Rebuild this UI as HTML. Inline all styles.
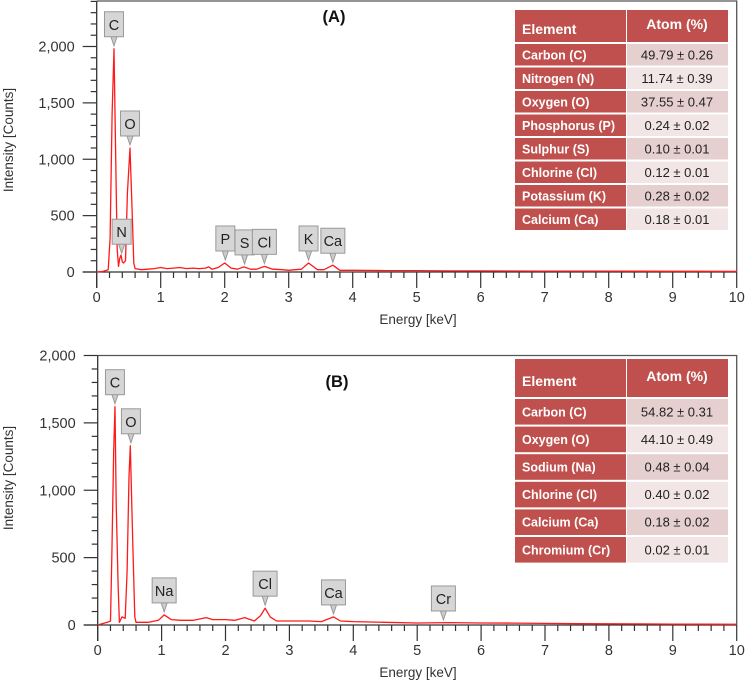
<!DOCTYPE html>
<html><head><meta charset="utf-8">
<style>
html,body{margin:0;padding:0;background:#fff;}
svg{display:block;font-family:"Liberation Sans",sans-serif;}
</style></head>
<body>
<svg id="chart" width="748" height="688" viewBox="0 0 748 688" xmlns="http://www.w3.org/2000/svg"></svg>
<script>
// ---------- data ----------
const energyA = [0,0.1,0.18,0.21,0.24,0.27,0.3,0.32,0.34,0.36,0.38,0.4,0.42,0.45,0.48,0.52,0.55,0.58,0.6,0.7,0.8,0.9,1.0,1.1,1.2,1.3,1.4,1.5,1.6,1.7,1.75,1.8,1.9,2.0,2.1,2.2,2.3,2.4,2.5,2.62,2.75,2.9,3.0,3.1,3.2,3.31,3.45,3.55,3.69,3.8,4.0,4.5,5,5.5,6,6.5,7,7.5,8,8.5,9,9.5,10];
const countsA = [0,5,20,300,1400,1980,900,200,50,120,150,90,80,100,700,1100,600,80,30,20,25,30,40,30,35,40,30,35,30,35,45,25,40,80,35,25,45,25,25,50,25,20,15,20,25,80,20,20,60,15,15,12,12,10,10,9,8,8,8,7,6,6,5];
const energyB = [0,0.15,0.2,0.22,0.25,0.27,0.29,0.32,0.34,0.38,0.43,0.46,0.49,0.51,0.55,0.58,0.6,0.8,0.95,1.04,1.15,1.3,1.5,1.7,1.8,2.0,2.15,2.3,2.45,2.55,2.62,2.7,2.8,3.0,3.3,3.5,3.69,3.8,4.0,4.5,5,5.5,6,6.5,7,7.5,8,8.5,9,9.5,10];
const countsB = [0,20,30,500,1300,1620,900,300,20,60,50,400,1100,1330,600,60,20,20,35,75,40,35,35,55,40,40,35,55,30,70,125,60,30,30,30,25,60,30,25,20,15,18,15,14,12,10,9,8,7,6,5];
const labelsA = ["C","O","N","P","S","Cl","K","Ca"];
const labelEA = [0.27,0.52,0.39,2.01,2.31,2.62,3.31,3.69];
const labelCA = [1980,1100,140,80,45,50,80,60];
const labelsB = ["C","O","Na","Cl","Ca","Cr"];
const labelEB = [0.27,0.52,1.04,2.62,3.69,5.41];
const labelCB = [1620,1330,75,125,60,15];
const tableA_el = ["Carbon (C)","Nitrogen (N)","Oxygen (O)","Phosphorus (P)","Sulphur (S)","Chlorine (Cl)","Potassium (K)","Calcium (Ca)"];
const tableA_val = ["49.79 ± 0.26","11.74 ± 0.39","37.55 ± 0.47","0.24 ± 0.02","0.10 ± 0.01","0.12 ± 0.01","0.28 ± 0.02","0.18 ± 0.01"];
const tableB_el = ["Carbon (C)","Oxygen (O)","Sodium (Na)","Chlorine (Cl)","Calcium (Ca)","Chromium (Cr)"];
const tableB_val = ["54.82 ± 0.31","44.10 ± 0.49","0.48 ± 0.04","0.40 ± 0.02","0.18 ± 0.02","0.02 ± 0.01"];
const xTicks = [0,1,2,3,4,5,6,7,8,9,10];
const yTicks = [0,500,1000,1500,2000];
const yTickLabels = ["0","500","1,000","1,500","2,000"];

const NS="http://www.w3.org/2000/svg";
const svg=document.getElementById('chart');
function mk(tag,attrs,parent,text){const e=document.createElementNS(NS,tag);for(const k in attrs)e.setAttribute(k,attrs[k]);if(text!==undefined)e.textContent=text;(parent||svg).appendChild(e);return e;}

function panel(cfg){
  const g=mk('g',{});
  
  
  const x=v=>cfg.x0+(v-0)*(cfg.x1-cfg.x0)/10;
  const y=v=>cfg.y0-(v/2000)*(cfg.y0-cfg.y2000);
  const fr=mk('path',{d:`M${x(0)},${cfg.top} L${cfg.x1},${cfg.top} L${cfg.x1},${cfg.y0}`,fill:'none',stroke:'#555','stroke-width':1.3},g);
  
  
  const ya=mk('g',{},g);
  
  
  mk('line',{x1:x(0),y1:cfg.top,x2:x(0),y2:cfg.y0+16,stroke:'#333','stroke-width':1.3},ya);
  for(let v=0; y(v)>=cfg.top-0.5; v+=100){
    const maj=v%500===0;
    mk('line',{x1:x(0)-(maj?14:6),y1:y(v),x2:x(0),y2:y(v),stroke:'#333','stroke-width':1.2},ya);
  }
  yTicks.forEach((v,i)=>{
    const t=mk('text',{x:x(0)-22,y:y(v)+5,'text-anchor':'end','font-size':14.5,fill:'#333'},ya,yTickLabels[i]);
    
    
  });
  const yt=mk('text',{x:0,y:0,'text-anchor':'middle','font-size':13.5,fill:'#333',transform:`translate(13,${cfg.yTitleY}) rotate(-90)`},ya,'Intensity [Counts]');
  
  
  const xa=mk('g',{},g);
  
  
  mk('line',{x1:x(0)-14,y1:cfg.y0,x2:cfg.x1,y2:cfg.y0,stroke:'#333','stroke-width':1.3},xa);
  for(let i=0;i<=50;i++){
    const v=i*0.2, maj=i%5===0;
    mk('line',{x1:x(v),y1:cfg.y0,x2:x(v),y2:cfg.y0+(maj?16:6),stroke:'#333','stroke-width':1.2},xa);
  }
  xTicks.forEach(v=>{
    const t=mk('text',{x:x(v),y:cfg.y0+30,'text-anchor':'middle','font-size':14.5,fill:'#333'},xa,String(v));
    
    
  });
  const xt=mk('text',{x:418,y:cfg.y0+52,'text-anchor':'middle','font-size':13.5,fill:'#333'},xa,'Energy [keV]');
  
  
  let d='';
  cfg.E.forEach((e,i)=>{d+=(i?'L':'M')+x(e).toFixed(1)+','+y(cfg.C[i]).toFixed(1)+' ';});
  const sp=mk('path',{d:d,fill:'none',stroke:'#ff1a1a','stroke-width':1.3,'stroke-linejoin':'round'},g);
  
  
  cfg.L.forEach((lab,i)=>{
    const lg=mk('g',{},g);
    
    
    const px=x(cfg.LE[i]), py=y(cfg.LC[i])-3;
    const w=lab.length>1?24:19, h=25, by=py-9-h;
    mk('path',{d:`M${px-3},${by+h} L${px},${py} L${px+3},${by+h}`,fill:'#ccc',stroke:'#999','stroke-width':1},lg);
    mk('rect',{x:px-w/2,y:by,width:w,height:h,fill:'#d6d6d6',stroke:'#999','stroke-width':1},lg);
    mk('text',{x:px,y:by+18,'text-anchor':'middle','font-size':14.5,fill:'#222'},lg,lab);
  });
  const pt=mk('text',{x:cfg.titleX,y:cfg.titleY,'text-anchor':'middle','font-size':16.5,'font-weight':'bold',fill:'#111'},g,cfg.title);
  
  
  const tg=mk('g',{},g);
  
  
  const tx=515, tc=626, tr=728;
  mk('rect',{x:tx,y:cfg.tTop,width:tc-tx,height:cfg.tHead,fill:'#c0504d'},tg);
  mk('rect',{x:tc+1,y:cfg.tTop,width:tr-tc-1,height:cfg.tHead,fill:'#c0504d'},tg);
  mk('text',{x:tx+7,y:cfg.tTop+cfg.tHead/2+8,'font-size':14,'font-weight':'bold',fill:'#fff'},tg,'Element');
  mk('text',{x:(tc+tr)/2,y:cfg.tTop+cfg.tHead/2+3,'text-anchor':'middle','font-size':14,'font-weight':'bold',fill:'#fff'},tg,'Atom (%)');
  cfg.TE.forEach((el,i)=>{
    const ry=cfg.tTop+cfg.tHead+1+i*cfg.tRow;
    mk('rect',{x:tx,y:ry+1,width:tc-tx,height:cfg.tRow-2,fill:'#c0504d'},tg);
    mk('rect',{x:tc+1,y:ry+1,width:tr-tc-1,height:cfg.tRow-2,fill:i%2?'#f1e5e5':'#e6cfcf'},tg);
    mk('text',{x:tx+7,y:ry+cfg.tRow/2+4.5,'font-size':12.5,'font-weight':'bold',fill:'#fff'},tg,el);
    mk('text',{x:(tc+tr)/2,y:ry+cfg.tRow/2+4.5,'text-anchor':'middle','font-size':13,fill:'#222'},tg,cfg.TV[i]);
  });
}

panel({name:'panel-a',x0:96.7,x1:736.7,y0:272,y2000:46.5,top:1,yTitleY:140,E:energyA,C:countsA,L:labelsA,LE:labelEA,LC:labelCA,title:'(A)',titleX:334,titleY:22,TE:tableA_el,TV:tableA_val,tTop:10,tHead:32,tRow:23.5});
panel({name:'panel-b',x0:97.7,x1:736.7,y0:625,y2000:355.5,top:355.5,yTitleY:478,E:energyB,C:countsB,L:labelsB,LE:labelEB,LC:labelCB,title:'(B)',titleX:337,titleY:387,TE:tableB_el,TV:tableB_val,tTop:359,tHead:38,tRow:27.6});
</script>
</body></html>
